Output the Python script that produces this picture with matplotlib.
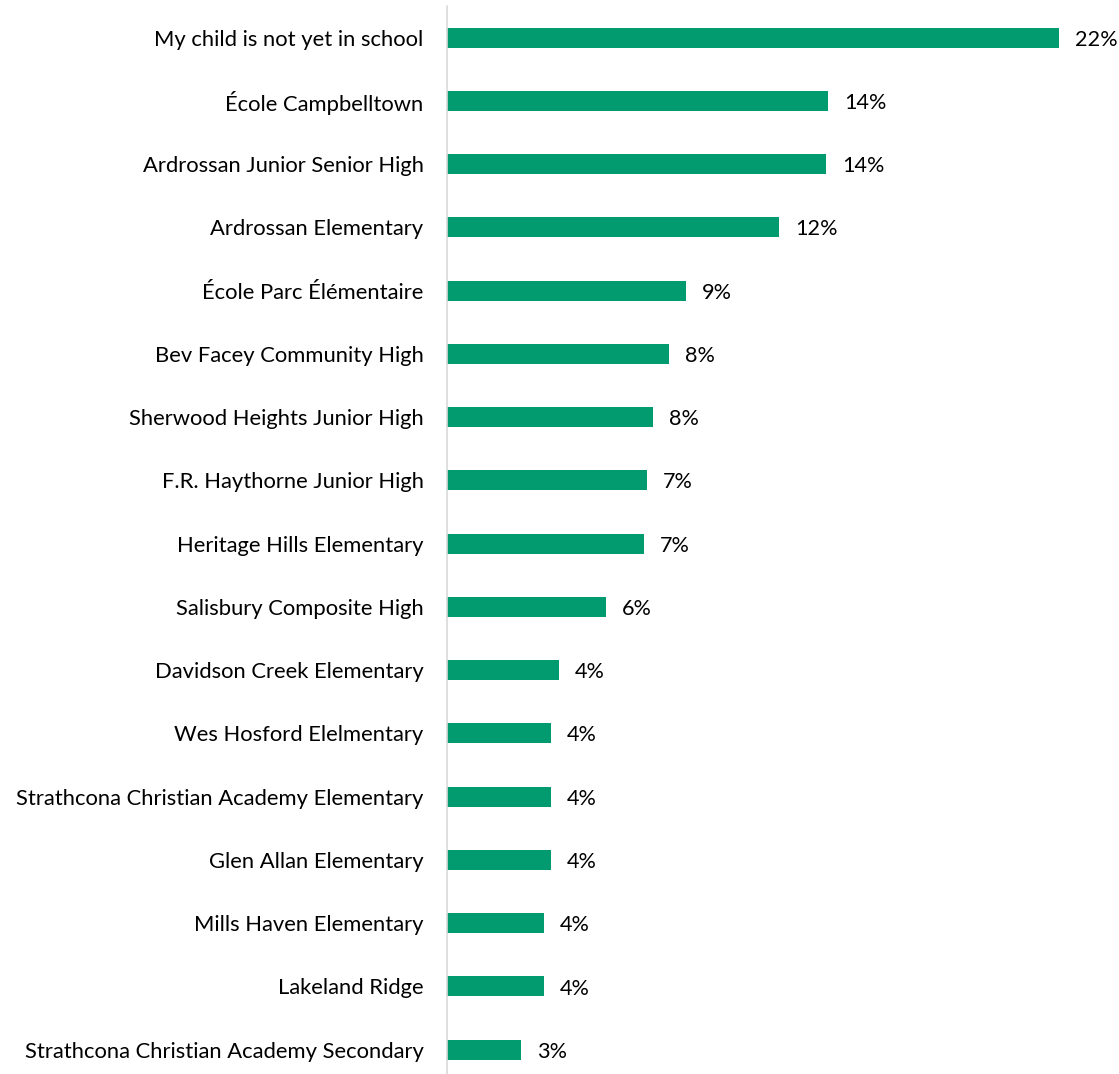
import matplotlib
matplotlib.use("Agg")
import matplotlib.pyplot as plt

schools = [
    "My child is not yet in school",
    "École Campbelltown",
    "Ardrossan Junior Senior High",
    "Ardrossan Elementary",
    "École Parc Élémentaire",
    "Bev Facey Community High",
    "Sherwood Heights Junior High",
    "F.R. Haythorne Junior High",
    "Heritage Hills Elementary",
    "Salisbury Composite High",
    "Davidson Creek Elementary",
    "Wes Hosford Elelmentary",
    "Strathcona Christian Academy Elementary",
    "Glen Allan Elementary",
    "Mills Haven Elementary",
    "Lakeland Ridge",
    "Strathcona Christian Academy Secondary",
]
percent = [22.4, 13.96, 13.87, 12.15, 8.74, 8.14, 7.55, 7.34, 7.23,
           5.83, 4.12, 3.82, 3.82, 3.82, 3.55, 3.55, 2.71]

W, H = 1119, 1074
fig = plt.figure(figsize=(W / 100, H / 100), dpi=100)
plt.rcParams['font.family'] = ['Lato', 'DejaVu Sans']

# axes placement in pixels
left, right = 446.5, 1103.0
top, bottom = 6.0, 1074.0
ax = fig.add_axes([left / W, 1 - bottom / H, (right - left) / W, (bottom - top) / H])

pitch = 63.26
first_c, last_c = 37.5, 1049.7
ax.set_ylim(16 + (bottom - last_c) / pitch, -(first_c - top) / pitch)
ax.set_xlim(0, (right - left) / (612.8 / 22.4))

ypos = list(range(len(schools)))
ax.barh(ypos, percent, height=20 / pitch, color='#029B6F')

for y, v in zip(ypos, percent):
    ax.annotate(f"{v:.0f}%", xy=(v, y), xytext=(11.5, -1.5), textcoords='offset points',
                ha='left', va='center', fontsize=15.6, color='black')

ax.set_yticks(ypos)
ax.set_yticklabels(schools, fontsize=15.8, color='black')
ax.tick_params(axis='y', length=0, pad=16.5)
ax.set_xticks([])

for s in ['top', 'right', 'bottom']:
    ax.spines[s].set_visible(False)
ax.spines['left'].set_color('#D9D9D9')
ax.spines['left'].set_linewidth(1.2)

fig.savefig("out.png", dpi=100)
